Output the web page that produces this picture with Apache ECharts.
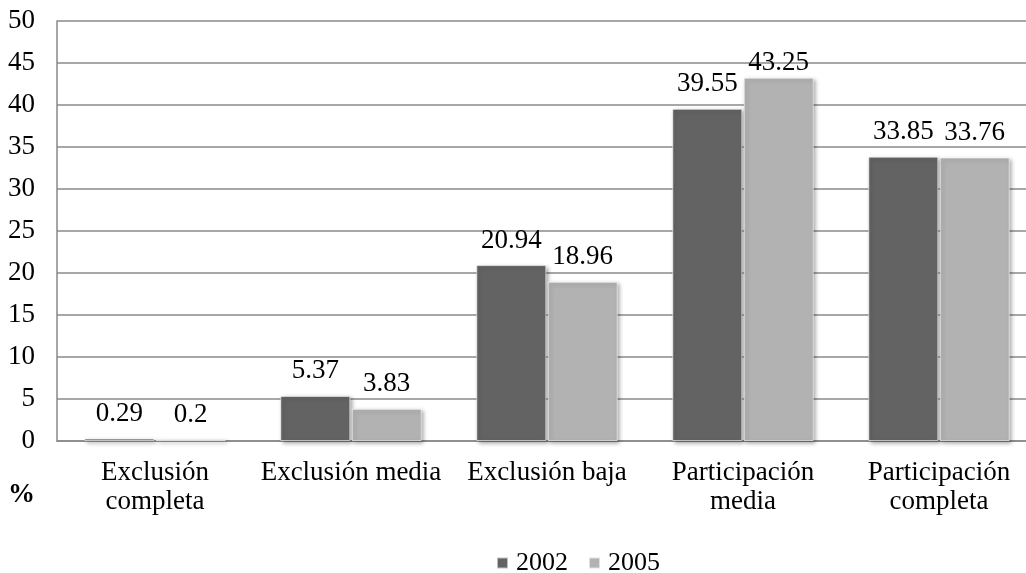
<!DOCTYPE html>
<html>
<head>
<meta charset="utf-8">
<script src="https://cdn.jsdelivr.net/npm/echarts@6/dist/echarts.min.js"></script>
<style>
  html, body { margin: 0; padding: 0; background: #fff; overflow: hidden; }
  /* the plot area runs a little past the right edge of the window */
  #chart { width: 1037px; height: 573px; }
</style>
</head>
<body>
<div id="chart"></div>
<script>
// Participation levels, share of population (%) by year
const categories = ['Exclusión\ncompleta', 'Exclusión media', 'Exclusión baja', 'Participación\nmedia', 'Participación\ncompleta'];
const values2002 = [0.29, 5.37, 20.94, 39.55, 33.85];
const values2005 = [0.2, 3.83, 18.96, 43.25, 33.76];
const yTicks = { min: 0, max: 50, interval: 5 };

const FONT = '"Liberation Serif", "Times New Roman", serif';
const FS = 27;

const barStyle = (color) => ({
  color: color,
  borderColor: 'rgba(255,255,255,0.6)',
  borderWidth: 1,
  shadowColor: 'rgba(0,0,0,0.35)',
  shadowBlur: 4,
  shadowOffsetX: 2,
  shadowOffsetY: 2
});

const labelStyle = {
  show: true,
  position: 'top',
  distance: 11,
  color: '#000',
  fontFamily: FONT,
  fontSize: FS
};

const chart = echarts.init(document.getElementById('chart'), null, { renderer: 'canvas' });
chart.setOption({
  animation: false,
  backgroundColor: '#fff',
  textStyle: { fontFamily: FONT },
  grid: { left: 57, top: 21, right: 0, bottom: 132, containLabel: false },
  legend: {
    top: 550,
    left: 496,
    padding: 0,
    itemWidth: 11,
    itemHeight: 11,
    itemGap: 20,
    icon: 'rect',
    textStyle: { fontFamily: FONT, fontSize: 26, color: '#000', padding: [0, 0, 0, 3] },
    data: ['2002', '2005']
  },
  xAxis: {
    type: 'category',
    data: categories,
    axisLine: { show: true, lineStyle: { color: '#888', width: 1.5 } },
    axisTick: { show: false },
    axisLabel: {
      color: '#000',
      fontFamily: FONT,
      fontSize: FS,
      lineHeight: 29,
      margin: 17,
      interval: 0
    }
  },
  yAxis: {
    type: 'value',
    min: yTicks.min,
    max: yTicks.max,
    interval: yTicks.interval,
    axisLine: { show: true, lineStyle: { color: '#888', width: 1.5 } },
    axisTick: { show: false },
    splitLine: { show: true, lineStyle: { color: '#8a8a8a', width: 1.5 } },
    axisLabel: {
      color: '#000',
      fontFamily: FONT,
      fontSize: FS,
      margin: 22
    }
  },
  graphic: [{
    type: 'text',
    left: 8,
    top: 482,
    style: { text: '%', font: 'bold ' + FS + 'px ' + FONT, fill: '#000' }
  }],
  series: [
    {
      name: '2002',
      type: 'bar',
      data: values2002,
      barWidth: 70,
      barGap: '2%',
      itemStyle: barStyle('#636363'),
      label: labelStyle
    },
    {
      name: '2005',
      type: 'bar',
      data: values2005.map((v, i) => i === 3 ? { value: v, label: { distance: 1 } } : v),
      barWidth: 70,
      barGap: '2%',
      itemStyle: barStyle('#b2b2b2'),
      label: labelStyle
    }
  ]
});
</script>
</body>
</html>
